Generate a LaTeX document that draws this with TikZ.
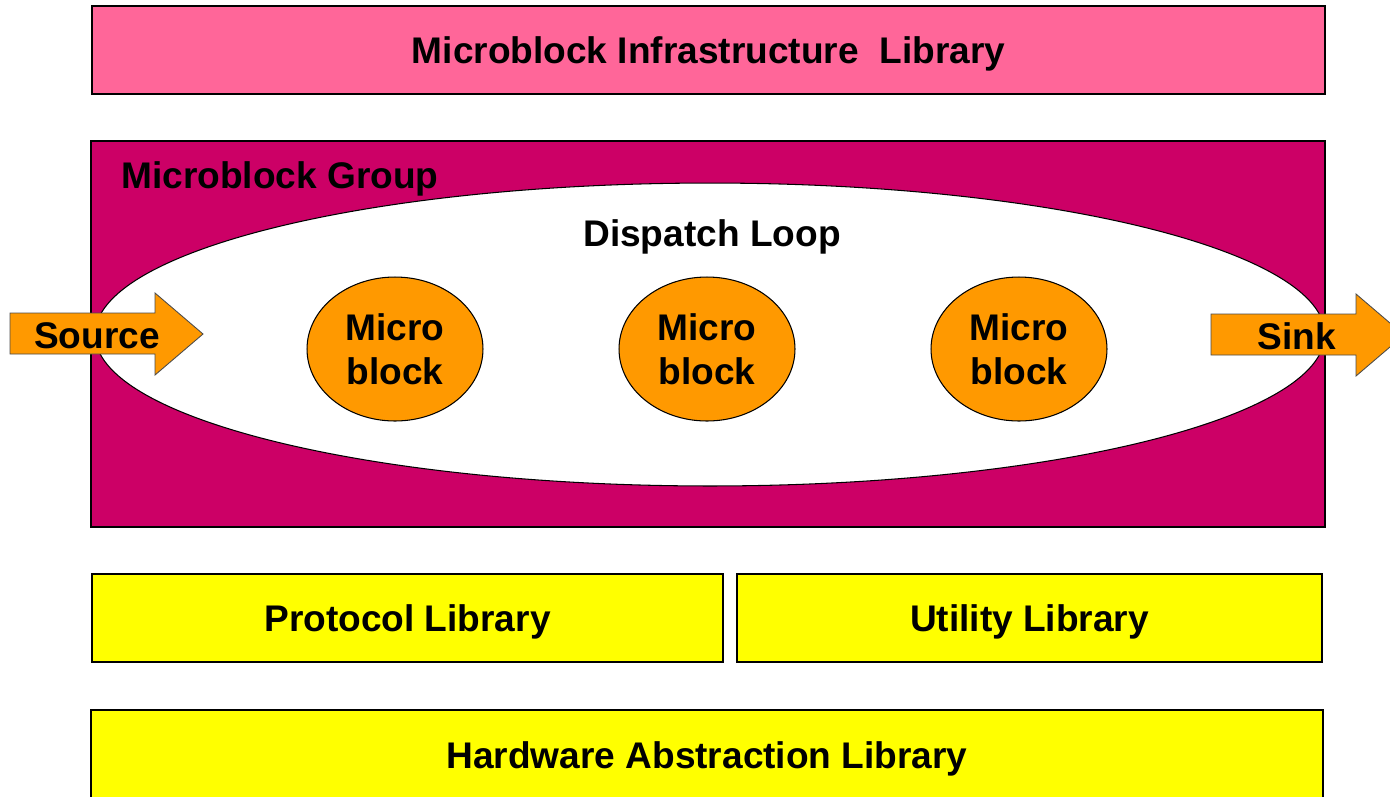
\documentclass[tikz,border=0pt]{standalone}
\usepackage{fontspec}
\setmainfont{Liberation Sans}
\usetikzlibrary{shapes.geometric}
\definecolor{infrapink}{HTML}{FF6699}
\definecolor{groupred}{HTML}{CC0066}
\definecolor{blockorange}{HTML}{FF9900}
\definecolor{libyellow}{HTML}{FFFF00}
\begin{document}
\begin{tikzpicture}[x=0.02cm,y=-0.02cm,
    every node/.style={font=\fontsize{21.1}{25}\selectfont\bfseries,text depth=0pt},
    layer/.style={draw=black,line width=1.1pt,minimum height=1.76cm,inner sep=0pt},
    block/.style={ellipse,draw=black,line width=0.6pt,fill=blockorange,
      minimum width=3.52cm,minimum height=2.88cm,align=center,inner sep=0pt},
    flow/.style={fill=blockorange,draw=gray!60!black,line width=0.5pt}]
  \useasboundingbox (0,0) rectangle (1390,796);
  \clip (0,0) rectangle (1390,796);
  \node[layer,fill=infrapink,minimum width=24.66cm] (infra) at (708.5,50)
    {Microblock Infrastructure\ \ Library};
  \node[layer,fill=groupred,minimum width=24.68cm,minimum height=7.72cm] (group) at (708,334) {};
  \node[anchor=west,inner sep=0pt] (grouplabel) at (121,175) {Microblock Group};
  \node[ellipse,draw=black,line width=0.6pt,fill=white,
    minimum width=24.6cm,minimum height=6.06cm,inner sep=0pt] (loop) at (710,334.5) {};
  \node (looplabel) at (712,233) {Dispatch Loop};
  % source and sink arrows
  \draw[flow] (10,313) -- (155,313) -- (155,293) -- (203,334) -- (155,375)
    -- (155,354) -- (10,354) -- cycle;
  \draw[flow] (1211,314) -- (1356,314) -- (1356,294) -- (1404,335) -- (1356,376)
    -- (1356,355) -- (1211,355) -- cycle;
  \node (source) at (97,336) {Source};
  \node (sink) at (1297,336) {Sink};
  \node[block] (mb1) at (395,349) {Micro\\block};
  \node[block] (mb2) at (707,349) {Micro\\block};
  \node[block] (mb3) at (1019,349) {Micro\\block};
  \node[layer,fill=libyellow,minimum width=12.62cm] (proto) at (407.5,618) {Protocol Library};
  \node[layer,fill=libyellow,minimum width=11.7cm] (util) at (1029.5,618) {Utility Library};
  \node[layer,fill=libyellow,minimum width=24.64cm,minimum height=1.8cm] (hal) at (707,755)
    {Hardware Abstraction Library};
\end{tikzpicture}
\end{document}
